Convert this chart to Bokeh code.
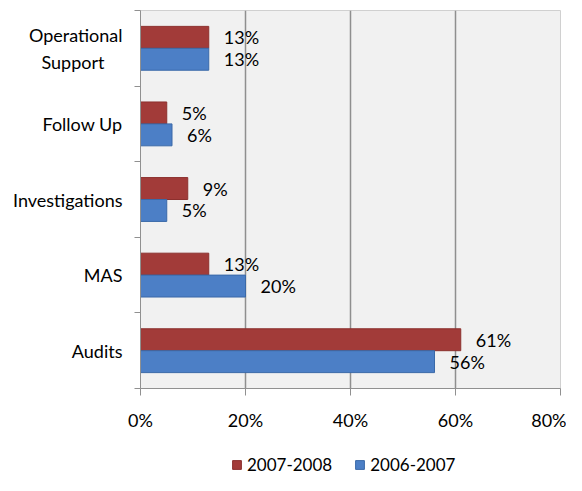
import numpy as np
from bokeh.plotting import figure
from bokeh.layouts import column
from bokeh.models import (ColumnDataSource, FixedTicker, Legend, LegendItem,
                          Range1d, LabelSet)
from bokeh.core.properties import value
from bokeh.embed import file_html
from bokeh.resources import INLINE

categories = ["Audits", "MAS", "Investigations", "Follow Up",
              "Operational\nSupport\u2002\u2002"]
v_2007_2008 = [61, 13, 9, 5, 13]
v_2006_2007 = [56, 20, 5, 6, 13]
x_ticks = [0, 20, 40, 60, 80]
x_tick_labels = ["0%", "20%", "40%", "60%", "80%"]
series_names = ["2007-2008", "2006-2007"]

FONT = "Lato"
FS = "18px"
RED = "#A23B39"
BLUE = "#4C7FC6"
RED_LINE = "#8c302e"
BLUE_LINE = "#3a69a8"

centers = np.arange(len(categories)) + 0.5
bar_h = 0.29

src_red = ColumnDataSource(dict(
    y=centers + bar_h / 2, v=v_2007_2008,
    lab=[f"{v}%" for v in v_2007_2008]))
src_blue = ColumnDataSource(dict(
    y=centers - bar_h / 2, v=v_2006_2007,
    lab=[f"{v}%" for v in v_2006_2007]))

p = figure(width=566, height=440, output_backend="svg", toolbar_location=None,
           x_range=Range1d(0, 80), y_range=Range1d(0, len(categories)),
           min_border_left=140, min_border_right=6, min_border_top=10,
           min_border_bottom=52)

p.background_fill_color = "#f1f1f1"
p.border_fill_color = "white"
p.outline_line_color = "#d0d0d0"

p.hbar(y="y", right="v", left=0, height=bar_h, source=src_red,
       fill_color=RED, line_color=RED_LINE, line_width=1)
p.hbar(y="y", right="v", left=0, height=bar_h, source=src_blue,
       fill_color=BLUE, line_color=BLUE_LINE, line_width=1)

for src in (src_red, src_blue):
    p.add_layout(LabelSet(x="v", y="y", text="lab", source=src, x_offset=15,
                          text_baseline="middle", text_font=value(FONT),
                          text_font_size=value(FS), text_color="black"))

# x axis
p.xaxis.ticker = FixedTicker(ticks=x_ticks)
p.xaxis.major_label_overrides = {t: l for t, l in zip(x_ticks, x_tick_labels)}
p.xaxis.major_tick_out = 7
p.xaxis.major_tick_in = 0
p.xaxis.minor_tick_line_color = None
p.xaxis.axis_line_color = "#909090"
p.xaxis.major_tick_line_color = "#909090"
p.xaxis.major_label_text_font = FONT
p.xaxis.major_label_text_font_size = FS
p.xaxis.major_label_text_color = "black"
p.xaxis.major_label_standoff = 13

# y axis
p.yaxis.ticker = FixedTicker(ticks=list(centers),
                             minor_ticks=list(range(len(categories) + 1)))
p.yaxis.major_label_overrides = {float(c): n for c, n in zip(centers, categories)}
p.yaxis.major_tick_line_color = None
p.yaxis.major_tick_out = 0
p.yaxis.minor_tick_out = 6
p.yaxis.minor_tick_in = 0
p.yaxis.minor_tick_line_color = "#909090"
p.yaxis.axis_line_color = "#909090"
p.yaxis.major_label_text_font = FONT
p.yaxis.major_label_text_font_size = FS
p.yaxis.major_label_text_color = "black"
p.yaxis.major_label_standoff = 12

p.xgrid.ticker = FixedTicker(ticks=x_ticks)
p.xgrid.grid_line_color = "#8f8f8f"
p.xgrid.grid_line_width = 1.5
p.ygrid.grid_line_color = None

# legend strip below the chart (its frame is aligned with the chart's frame)
lg = figure(width=566, height=35, output_backend="svg", toolbar_location=None,
            x_range=Range1d(0, 1), y_range=Range1d(0, 1),
            min_border_left=140, min_border_right=6, min_border_top=0,
            min_border_bottom=0)
lg.axis.visible = False
lg.grid.visible = False
lg.outline_line_color = None
lg.background_fill_color = None
# key swatches sit outside the visible range; only their legend glyphs show
k_red = lg.rect(x=[5], y=[5], width=0.1, height=0.1,
                fill_color=RED, line_color=RED_LINE)
k_blue = lg.rect(x=[5], y=[5], width=0.1, height=0.1,
                 fill_color=BLUE, line_color=BLUE_LINE)
legend = Legend(items=[LegendItem(label=series_names[0], renderers=[k_red]),
                       LegendItem(label=series_names[1], renderers=[k_blue])],
                orientation="horizontal", location=(91, 0),
                glyph_width=11, glyph_height=11, label_standoff=5,
                spacing=22, padding=0, margin=0,
                label_text_font=FONT, label_text_font_size="17px",
                label_text_color="black",
                border_line_color=None, background_fill_alpha=0)
lg.add_layout(legend, "center")

layout = column(p, lg, spacing=0)
open("out.html", "w").write(file_html(layout, INLINE))
